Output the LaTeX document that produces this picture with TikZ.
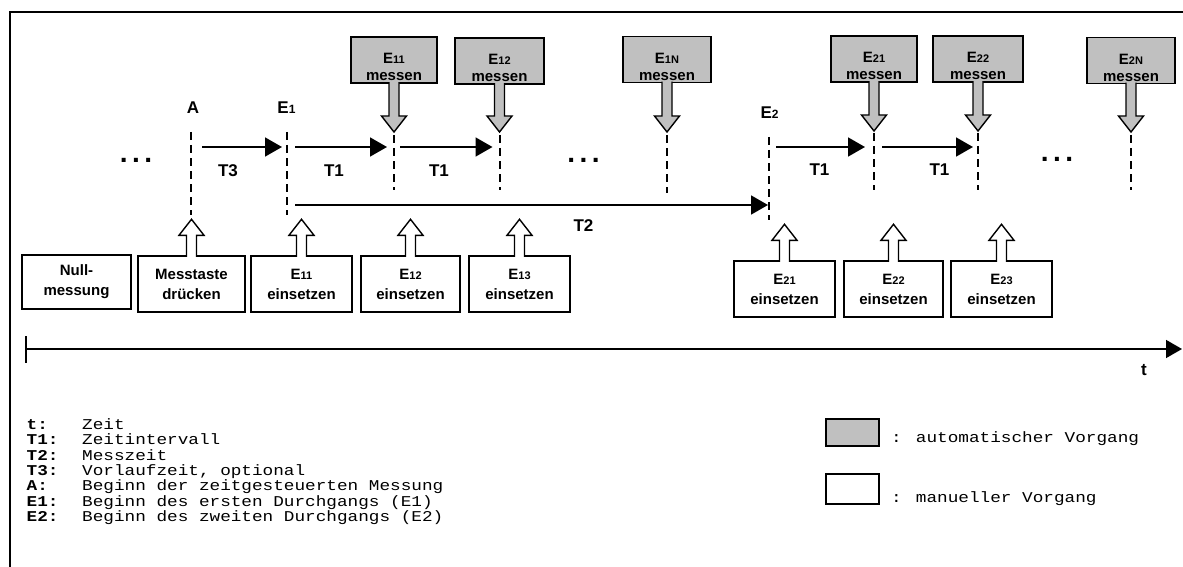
\documentclass[tikz,border=0pt]{standalone}
\usepackage{fontspec}
\setmainfont{Liberation Sans}
\newfontfamily\legfont[FakeStretch=1.18]{Liberation Mono}
\usepackage{xcolor}
\usepackage{tikz}
\usetikzlibrary{arrows.meta, positioning, calc}

\definecolor{autogray}{RGB}{192,192,192}
\newcommand{\idx}[2][11]{{\fontsize{#1}{#1}\selectfont #2}}
\newcommand{\gstrut}{\rule{0pt}{25pt}}
\newcommand{\legkey}[1]{\makebox[55.5pt][l]{\bfseries #1}}

\begin{document}
\begin{tikzpicture}[x=1pt, y=-1pt,
        autobox/.style={draw, fill=autogray, line width=1.4pt, minimum height=46pt, inner sep=0pt, align=center, font=\fontsize{15}{17}\selectfont\bfseries},
        handbox/.style={draw, fill=white, line width=1.4pt, minimum height=56pt, inner sep=0pt, align=center, font=\fontsize{15}{20}\selectfont\bfseries},
        legbox/.style={draw, line width=1.4pt, minimum width=53pt, inner sep=0pt},
        tlabel/.style={inner sep=0pt, font=\fontsize{17}{17}\selectfont\bfseries},
        gapdots/.style={inner sep=0pt, font=\fontsize{28}{28}\selectfont\bfseries},
        legtext/.style={anchor=base west, inner sep=0pt, font=\fontsize{15}{15}\selectfont\legfont},
        markline/.style={line width=2pt, dash pattern=on 8pt off 5pt},
        tarrow/.style={line width=1.7pt, -{Triangle[length=17pt, width=19pt]}},
        blockdown/.style={draw, fill=autogray, line width=1.4pt, to path={let \p1=(\tikztostart), \p2=(\tikztotarget) in (\x1-5pt,\y1+1.5pt) -- (\x1-5pt,\y2+16pt) -- (\x1-12.5pt,\y2+16pt) -- (\x1,\y2) -- (\x1+12.5pt,\y2+16pt) -- (\x1+5pt,\y2+16pt) -- (\x1+5pt,\y1+1.5pt)}},
        blockup/.style={draw, fill=white, line width=1.4pt, to path={let \p1=(\tikztostart), \p2=(\tikztotarget) in (\x1-5pt,\y1-1.5pt) -- (\x1-5pt,\y2-16pt) -- (\x1-12.5pt,\y2-16pt) -- (\x1,\y2) -- (\x1+12.5pt,\y2-16pt) -- (\x1+5pt,\y2-16pt) -- (\x1+5pt,\y1-1.5pt)}}]
    \useasboundingbox (0,0) rectangle (1183,567);
    \draw[line width=2.5pt] (10,567) -- (10,12) -- (1183,12);

    \coordinate (A)   at (191,147);
    \coordinate (E1)  at (287,147);
    \coordinate (m11) at (394,147);
    \coordinate (m12) at (499.5,147);
    \coordinate (m1N) at (667,147);
    \coordinate (E2)  at (769,147);
    \coordinate (m21) at (874,147);
    \coordinate (m22) at (978,147);
    \coordinate (m2N) at (1131,147);

    \draw[markline] ([yshift=15pt]A) -- ([yshift=-68pt]A);
    \draw[markline] ([yshift=15pt]E1) -- ([yshift=-68pt]E1);
    \draw[markline] ([yshift=12pt]m11) -- ([yshift=-43pt]m11);
    \draw[markline] ([yshift=12pt]m12) -- ([yshift=-43pt]m12);
    \draw[markline] ([yshift=12pt]m1N) -- ([yshift=-46pt]m1N);
    \draw[markline] ([yshift=10pt]E2) -- ([yshift=-73pt]E2);
    \draw[markline] ([yshift=14pt]m21) -- ([yshift=-43pt]m21);
    \draw[markline] ([yshift=14pt]m22) -- ([yshift=-43pt]m22);
    \draw[markline] ([yshift=12pt]m2N) -- ([yshift=-43pt]m2N);

    \node[tlabel] (lA)  at (193,108) {A};
    \node[tlabel] (lE1) at (286.5,107.5) {E\idx[12]{1}};
    \node[tlabel] (lE2) at (769.5,112.5) {E\idx[12]{2}};
    \node[tlabel] (T3)  at (228,171) {T3};
    \node[tlabel] (T1a) at (334,171) {T1};
    \node[tlabel] (T1b) at (439,171) {T1};
    \node[tlabel] (T2)  at (583.5,226) {T2};
    \node[tlabel] (T1c) at (819.5,170) {T1};
    \node[tlabel] (T1d) at (939.5,170) {T1};
    \node[tlabel] (t)   at (1144,370) {t};

    \node[gapdots] (dots1) at (136,160) {.\kern4.5pt.\kern4.5pt.};
    \node[gapdots] (dots2) at (583.5,160) {.\kern4.5pt.\kern4.5pt.};
    \node[gapdots] (dots3) at (1057,159) {.\kern4.5pt.\kern4.5pt.};

    \draw[tarrow, shorten <=11pt, shorten >=5pt] (A) -- (E1);
    \draw[tarrow, shorten <=8pt, shorten >=7pt] (E1) -- (m11);
    \draw[tarrow, shorten <=6pt, shorten >=7pt] (m11) -- (m12);
    \draw[tarrow, shorten <=7pt, shorten >=9pt] (E2) -- (m21);
    \draw[tarrow, shorten <=8pt, shorten >=5pt] (m21) -- (m22);
    \draw[tarrow, shorten <=8pt, shorten >=1pt] ([yshift=-58pt]E1) -- ([yshift=-58pt]E2);

    \node[autobox, minimum width=86pt] (g11) at (394,60) {\gstrut E\idx{11}\\messen};
    \node[autobox, minimum width=89pt] (g12) at (499.5,61) {\gstrut E\idx{12}\\messen};
    \node[autobox, minimum width=88pt] (g1N) at (667,59.5) {\gstrut E\idx{1N}\\messen};
    \node[autobox, minimum width=86pt] (g21) at (874,59) {\gstrut E\idx{21}\\messen};
    \node[autobox, minimum width=90pt] (g22) at (978,59) {\gstrut E\idx{22}\\messen};
    \node[autobox, minimum width=88pt] (g2N) at (1131,60.5) {\gstrut E\idx{2N}\\messen};

    \draw[blockdown] (g11.south) to ([yshift=15pt]m11);
    \draw[blockdown] (g12.south) to ([yshift=15pt]m12);
    \draw[blockdown] (g1N.south) to ([yshift=15pt]m1N);
    \draw[blockdown] (g21.south) to ([yshift=16pt]m21);
    \draw[blockdown] (g22.south) to ([yshift=16pt]m22);
    \draw[blockdown] (g2N.south) to ([yshift=15pt]m2N);

    \node[handbox, minimum width=109pt, minimum height=54pt] (bnull) at (76.5,282) {Null-\\messung};
    \node[handbox, minimum width=107pt] (bmess) at (191.5,284) {Messtaste\\drücken};
    \node[handbox, minimum width=101pt] (b11) at (301.5,284) {E\idx{11}\\einsetzen};
    \node[handbox, minimum width=99pt] (b12) at (410.5,284) {E\idx{12}\\einsetzen};
    \node[handbox, minimum width=101pt] (b13) at (519.5,284) {E\idx{13}\\einsetzen};
    \node[handbox, minimum width=101pt] (b21) at (784.5,289) {E\idx{21}\\einsetzen};
    \node[handbox, minimum width=99pt] (b22) at (893.5,289) {E\idx{22}\\einsetzen};
    \node[handbox, minimum width=101pt] (b23) at (1001.5,289) {E\idx{23}\\einsetzen};

    \draw[blockup] (bmess.north) to ([yshift=36pt]bmess.north);
    \draw[blockup] (b11.north) to ([yshift=36pt]b11.north);
    \draw[blockup] (b12.north) to ([yshift=36pt]b12.north);
    \draw[blockup] (b13.north) to ([yshift=36pt]b13.north);
    \draw[blockup] (b21.north) to ([yshift=36pt]b21.north);
    \draw[blockup] (b22.north) to ([yshift=36pt]b22.north);
    \draw[blockup] (b23.north) to ([yshift=36pt]b23.north);

    \coordinate (t0) at (26,349);
    \coordinate (tE) at (1182,349);
    \draw[line width=1.5pt, -{Triangle[length=16pt, width=18pt]}] (t0) -- (tE);
    \draw[line width=1.5pt] ([yshift=13pt]t0) -- ([yshift=-14pt]t0);

    \node[legtext] (k1) at (26.5,429) {\legkey{t:}Zeit};
    \node[legtext] (k2) at (26.5,444) {\legkey{T1:}Zeitintervall};
    \node[legtext] (k3) at (26.5,460) {\legkey{T2:}Messzeit};
    \node[legtext] (k4) at (26.5,475) {\legkey{T3:}Vorlaufzeit, optional};
    \node[legtext] (k5) at (26.5,490) {\legkey{A:}Beginn der zeitgesteuerten Messung};
    \node[legtext] (k6) at (26.5,506) {\legkey{E1:}Beginn des ersten Durchgangs (E1)};
    \node[legtext] (k7) at (26.5,521) {\legkey{E2:}Beginn des zweiten Durchgangs (E2)};

    \node[legbox, fill=autogray, minimum height=27pt] (kauto) at (852.5,432.5) {};
    \node[legbox, fill=white, minimum height=30pt] (kman) at (852.5,489) {};
    \node[legtext] (lauto) at (891,442) {: automatischer Vorgang};
    \node[legtext] (lman)  at (891,502) {: manueller Vorgang};
\end{tikzpicture}
\end{document}
